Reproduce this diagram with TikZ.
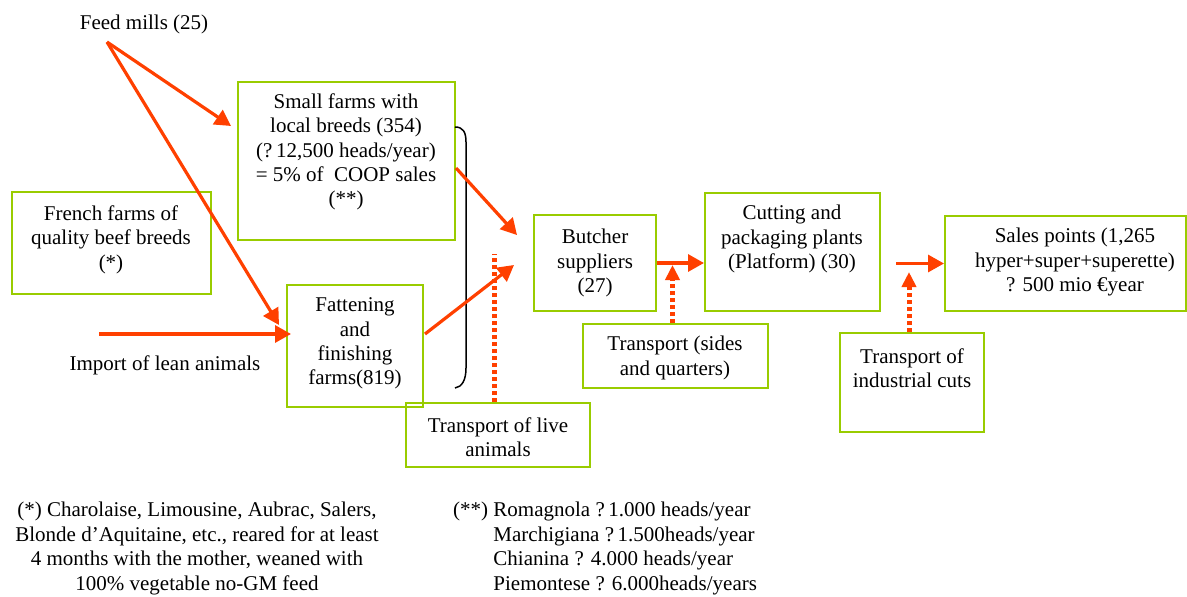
\documentclass[tikz,border=0pt]{standalone}
\usepackage{fontspec}
\setmainfont{Liberation Serif}
\usetikzlibrary{arrows.meta}
\usetikzlibrary{calc}
\definecolor{vert}{RGB}{153,204,0}
\definecolor{rouge}{RGB}{255,64,0}
\tikzstyle{bloc}=[
        draw=vert,
        rectangle,
        line width=2pt,
        inner sep=0pt
]
\tikzstyle{texte}=[align=center,inner sep=0pt,font=\fontsize{21}{24.4}\selectfont]
\tikzstyle{fleche}=[-{Triangle[length=16pt,width=17pt]},color=rouge,line width=3.2pt]
\tikzstyle{pointille}=[color=rouge,line width=5pt,dash pattern=on 4pt off 3pt]
\tikzstyle{pointe}=[-{Triangle[length=15pt,width=14pt]}]

\begin{document}
\begin{tikzpicture}[x=1pt,y=-1pt]
\useasboundingbox (0,0) rectangle (1187,597);
\node[texte] (feed) at (144,24.5) {Feed mills (25)};
\coordinate (fm) at (107,42);
\node[bloc,minimum width=217pt,minimum height=158pt] (small) at (346.5,161) {};
\node[texte] (smallt) at (346,152) {Small farms with\\local breeds (354)\\(?\,12,500 heads/year)\\= 5\% of\ \ COOP sales\\(**)};
\node[bloc,minimum width=199pt,minimum height=102pt] (french) at (111.5,243) {};
\node[texte] (frencht) at (111,239.5) {French farms of\\quality beef breeds\\(*)};
\node[bloc,minimum width=136pt,minimum height=122pt] (fatten) at (355,346) {};
\node[texte] (fattent) at (355,343.5) {Fattening\\and\\finishing\\farms(819)};
\coordinate (imp) at (99,334);
\node[texte] (impt) at (165,365.5) {Import of lean animals};
\node[bloc,minimum width=184pt,minimum height=64pt] (live) at (498,435) {};
\node[texte] (livet) at (498,437) {Transport of live\\animals};
\node[bloc,minimum width=122pt,minimum height=96pt] (butcher) at (595,263) {};
\node[texte] (butchert) at (595,263) {Butcher\\suppliers\\(27)};
\node[bloc,minimum width=185pt,minimum height=64pt] (sides) at (675.5,356) {};
\node[texte] (sidest) at (675,358) {Transport (sides\\and quarters)};
\node[bloc,minimum width=175pt,minimum height=118pt] (cutting) at (792.5,252) {};
\node[texte] (cuttingt) at (792,239) {Cutting and\\packaging plants\\(Platform) (30)};
\node[bloc,minimum width=144pt,minimum height=99pt] (cuts) at (912,382.5) {};
\node[texte] (cutst) at (912,368) {Transport of\\industrial cuts};
\node[bloc,minimum width=241pt,minimum height=95pt] (sales) at (1065.5,263.5) {};
\node[texte] (salest) at (1075,262) {Sales points (1,265\\hyper+super+superette)\\? 500 mio €year};
\node[texte] (noteA) at (197,548.5) {(*) Charolaise, Limousine, Aubrac, Salers,\\Blonde d’Aquitaine, etc., reared for at least\\4 months with the mother, weaned with\\100\% vegetable no-GM feed};
\node[texte,align=left,anchor=west] (noteB) at (453,548.5) {(**) Romagnola ?\,1.000 heads/year\\\phantom{(**)} Marchigiana ?\,1.500heads/year\\\phantom{(**)} Chianina ? 4.000 heads/year\\\phantom{(**)} Piemontese ? 6.000heads/years};
%accolade
\draw[line width=1.5pt] (455,127) .. controls (463,127) and (466,132) .. (466,142) -- (466,368) .. controls (466,380) and (462,387) .. (455,388);
%fleches
\draw[fleche] (fm) -- ($(small.west)+(-6,-35)$);
\draw[fleche] (fm) -- ($(fatten.west)+(-7,-21)$);
\draw[fleche] (imp) -- ($(fatten.west)+(5,-12)$);
\draw[fleche] ($(small.east)+(0,7)$) -- ($(butcher.west)+(-16,-28)$);
\draw[fleche] ($(fatten.east)+(1,-12)$) -- ($(butcher.west)+(-19,2)$);
\draw[fleche] (butcher.east) -- (butcher.east -| cutting.west);
\draw[fleche] ($(cutting.east |- sales.west)+(15,0)$) -- (sales.west);
\draw[pointille] ($(live.north)+(-4,0)$) -- ($(live.north)+(-4,-148)$);
\draw[pointille,pointe] ($(sides.north)+(-3,0)$) -- ($(sides.north)+(-3,-58)$);
\draw[pointille,pointe] ($(cuts.north)+(-3,0)$) -- ($(cuts.north)+(-3,-60)$);
\end{tikzpicture}
\end{document}
